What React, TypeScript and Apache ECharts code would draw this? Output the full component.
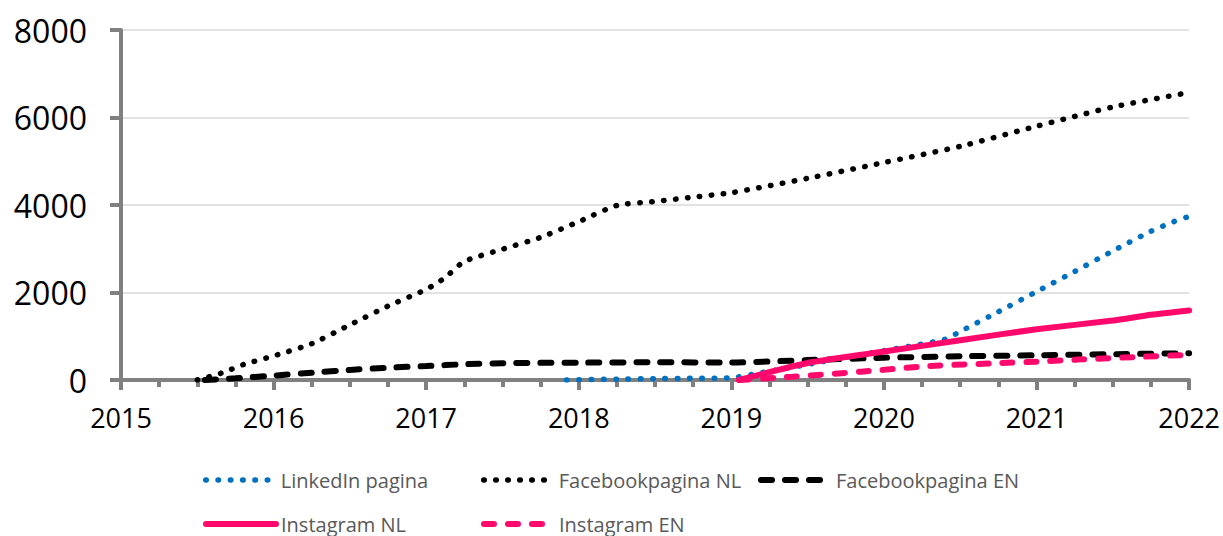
import React, { useEffect, useRef } from "react";
import * as echarts from "echarts";

const seriesNames = ["LinkedIn pagina", "Facebookpagina NL", "Facebookpagina EN", "Instagram NL", "Instagram EN"];

const linkedinYears = [2017.92, 2018.25, 2018.5, 2018.75, 2019.0, 2019.2, 2019.4, 2019.6, 2019.8, 2020.0, 2020.2, 2020.4, 2020.5, 2020.75, 2021.0, 2021.25, 2021.5, 2021.75, 2021.9, 2022.0];
const linkedinValues = [0, 20, 30, 40, 50, 170, 290, 420, 550, 670, 790, 930, 1110, 1560, 2020, 2480, 2950, 3400, 3620, 3740];

const fbNlYears = [2015.5, 2015.66, 2015.8, 2016.0, 2016.25, 2016.5, 2016.75, 2017.0, 2017.12, 2017.25, 2017.5, 2017.75, 2018.0, 2018.25, 2018.5, 2018.75, 2019.0, 2019.5, 2020.0, 2020.5, 2021.0, 2021.5, 2022.0];
const fbNlValues = [0, 160, 350, 550, 830, 1260, 1690, 2070, 2330, 2710, 2990, 3260, 3620, 3990, 4080, 4180, 4280, 4610, 4970, 5340, 5800, 6240, 6570];

const fbEnYears = [2015.55, 2015.75, 2016.0, 2016.25, 2016.5, 2016.75, 2017.0, 2017.25, 2017.5, 2018.0, 2018.5, 2019.0, 2019.5, 2020.0, 2020.5, 2021.0, 2021.5, 2022.0];
const fbEnValues = [0, 40, 100, 167, 230, 280, 320, 360, 385, 396, 405, 400, 455, 510, 542, 565, 590, 610];

const instaNlYears = [2019.05, 2019.5, 2020.0, 2020.5, 2021.0, 2021.5, 2021.75, 2022.0];
const instaNlValues = [0, 390, 650, 910, 1160, 1360, 1490, 1590];

const instaEnYears = [2019.05, 2019.4, 2019.85, 2020.3, 2020.75, 2021.0, 2021.3, 2021.7, 2022.0];
const instaEnValues = [0, 76, 190, 320, 385, 420, 472, 533, 575];

const xTicks = { min: 2015, max: 2022, interval: 1 };
const yTicks = { min: 0, max: 8000, interval: 2000 };

const pair = (xs: number[], ys: number[]) => xs.map((x, i) => [x, ys[i]]);

export default function App() {
  const ref = useRef<HTMLDivElement>(null);
  useEffect(() => {
    if (!ref.current) return;
    const chart = echarts.init(ref.current, null, { renderer: "svg" });
    const pink = "#FF0A6C";
    const blue = "#0070C0";
    const axisGray = "#808080";
    const legendText = { color: "#595959", fontSize: 20, fontFamily: "Open Sans", lineHeight: 20 };
    const legendBase = {
      orient: "horizontal",
      itemWidth: 70,
      itemHeight: 14,
      padding: 0,
      textStyle: legendText,
      selectedMode: false,
      itemStyle: { color: "rgba(0,0,0,0)", borderWidth: 0, opacity: 0 },
      lineStyle: { width: "inherit", type: "inherit", cap: "inherit" },
    };
    const mkLegend = (name: string, left: number, top: number) => ({ ...legendBase, data: [name], left, top });
    chart.setOption({
      animation: false,
      grid: { left: 121, right: 30, top: 30, bottom: 156, containLabel: false },
      legend: [
        mkLegend(seriesNames[0], 203, 470),
        mkLegend(seriesNames[1], 481, 470),
        mkLegend(seriesNames[2], 758, 470),
        mkLegend(seriesNames[3], 203, 514),
        mkLegend(seriesNames[4], 481, 514),
      ],
      xAxis: {
        type: "value",
        min: xTicks.min,
        max: xTicks.max,
        interval: xTicks.interval,
        axisLine: { show: true, lineStyle: { color: axisGray, width: 4 } },
        axisTick: { show: true, length: 10, lineStyle: { color: axisGray, width: 4 } },
        minorTick: { show: true, splitNumber: 4, length: 7, lineStyle: { color: axisGray, width: 4 } },
        splitLine: { show: false },
        minorSplitLine: { show: false },
        axisLabel: { color: "#000", fontSize: 27, fontFamily: "Open Sans", margin: 24, formatter: (v: number) => String(v) },
      },
      yAxis: {
        type: "value",
        min: yTicks.min,
        max: yTicks.max,
        interval: yTicks.interval,
        axisLine: { show: true, lineStyle: { color: axisGray, width: 4 } },
        axisTick: { show: true, length: 11, lineStyle: { color: axisGray, width: 4 } },
        splitLine: { show: true, lineStyle: { color: "#D9D9D9", width: 1.5 } },
        axisLabel: { color: "#000", fontSize: 32, fontFamily: "Open Sans", margin: 34, formatter: (v: number) => String(v) },
      },
      series: [
        {
          name: seriesNames[0], type: "line", symbol: "none", smooth: 0.2,
          data: pair(linkedinYears, linkedinValues),
          lineStyle: { color: blue, width: 5.5, type: [0.5, 11.8], cap: "round" },
          itemStyle: { color: blue },
        },
        {
          name: seriesNames[1], type: "line", symbol: "none", smooth: 0.2,
          data: pair(fbNlYears, fbNlValues),
          lineStyle: { color: "#000", width: 5.5, type: [0.5, 11.5], cap: "round" },
          itemStyle: { color: "#000" },
        },
        {
          name: seriesNames[2], type: "line", symbol: "none", smooth: 0.2,
          data: pair(fbEnYears, fbEnValues),
          lineStyle: { color: "#000", width: 6, type: [11, 13], cap: "round" },
          itemStyle: { color: "#000" },
        },
        {
          name: seriesNames[3], type: "line", symbol: "none", smooth: 0.2,
          data: pair(instaNlYears, instaNlValues),
          lineStyle: { color: pink, width: 6, type: "solid", cap: "round" },
          itemStyle: { color: pink },
        },
        {
          name: seriesNames[4], type: "line", symbol: "none", smooth: 0.2,
          data: pair(instaEnYears, instaEnValues),
          lineStyle: { color: pink, width: 6, type: [10, 14], cap: "round" },
          itemStyle: { color: pink },
        },
      ],
    });
    return () => chart.dispose();
  }, []);
  return <div ref={ref} style={{ position: "fixed", left: 0, top: 0, width: 1223, height: 536, background: "#fff" }} />;
}
